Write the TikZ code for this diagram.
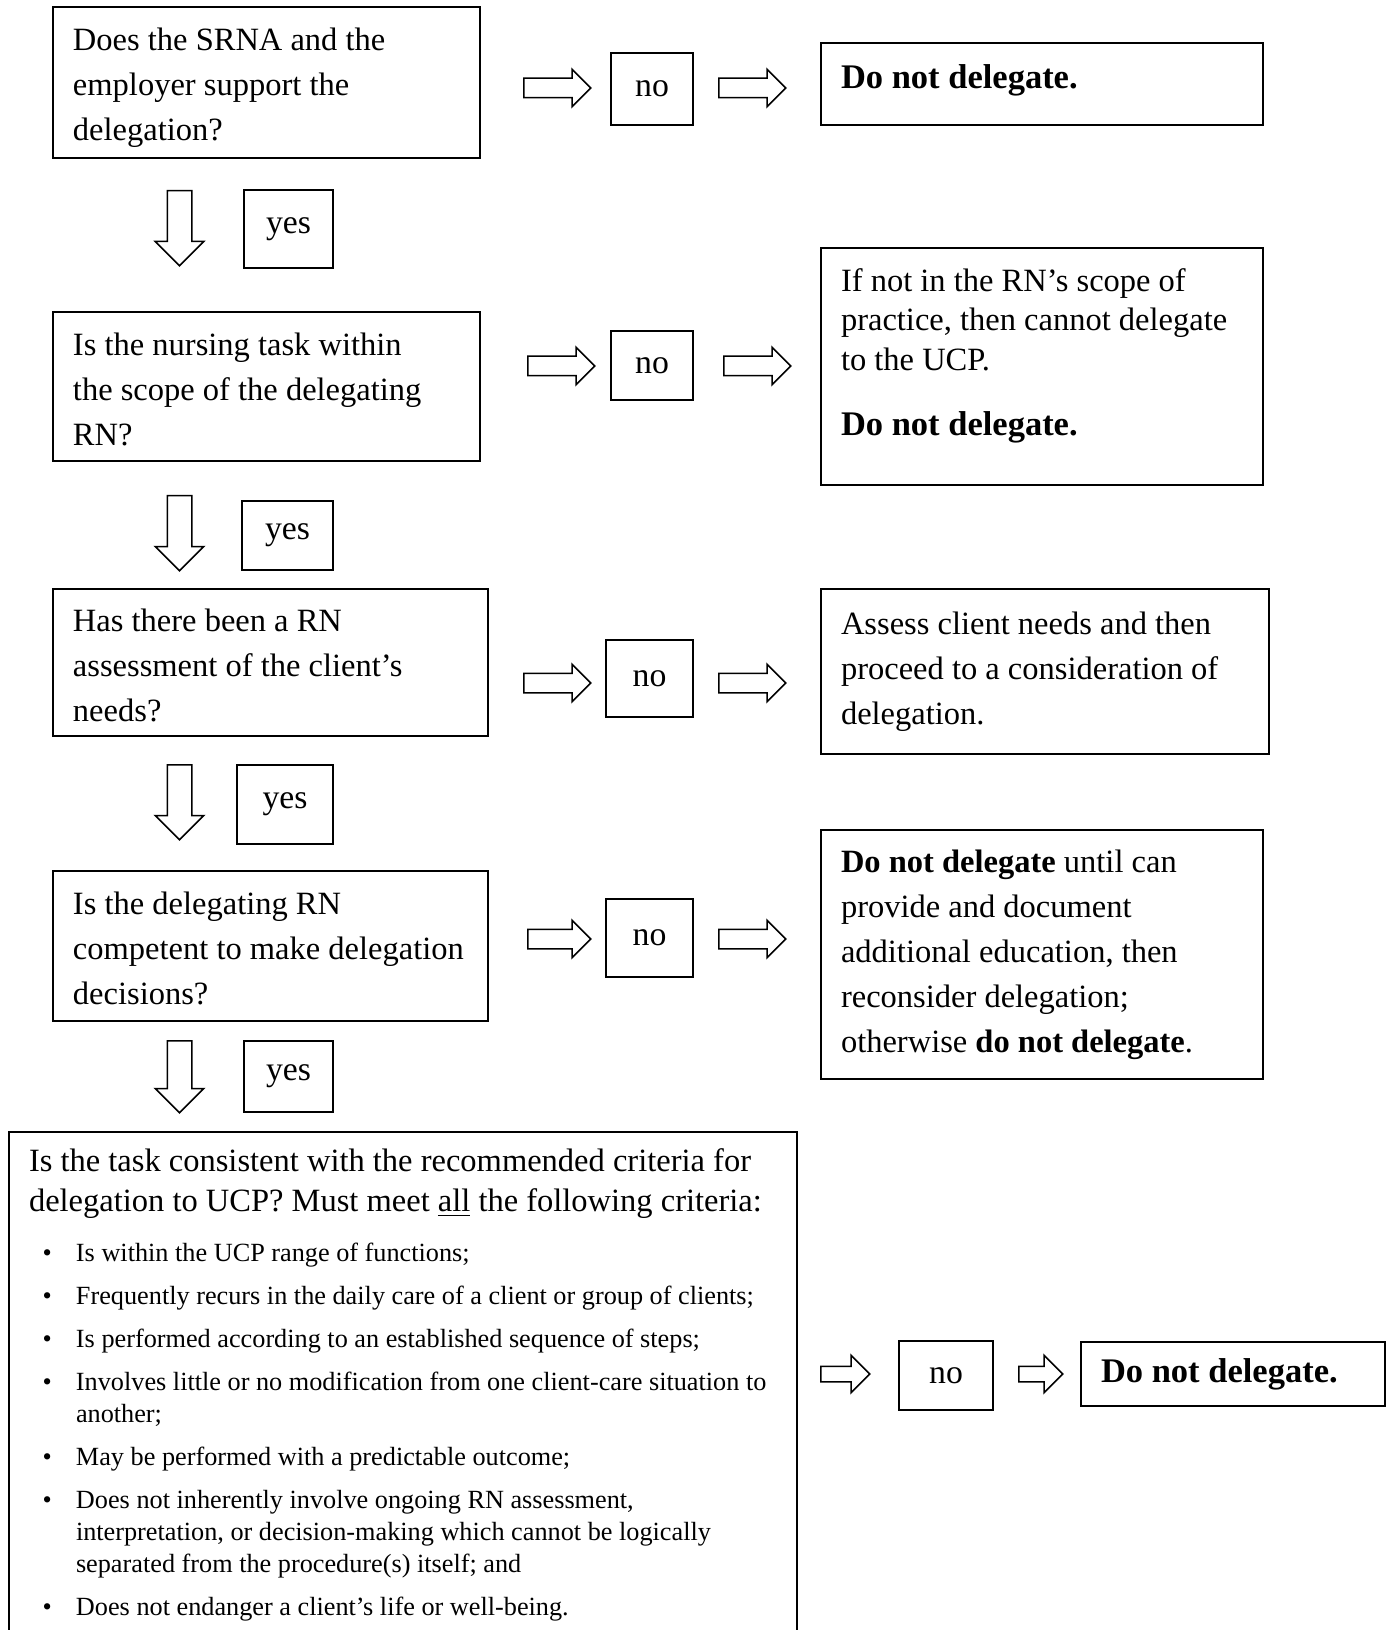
\documentclass[tikz,border=0pt]{standalone}
\usepackage{fontspec}
\setmainfont{Liberation Serif}
\usetikzlibrary{shapes.arrows}

% one bullet line of the criteria list
\newcommand\critem[1]{\par\hangindent=18.8pt\hangafter=1\noindent\hbox to 18.8pt{\hspace{5.4pt}\textbullet\hfil}#1}
% the bold stop line
\newcommand\stopline{\textbf{\fontsize{13.8}{16}\selectfont Do not delegate.}}

\begin{document}
\begin{tikzpicture}[x=0.4pt,y=-0.4pt]
    \tikzset{
    question/.style={
        draw,
        line width=0.8pt,
        text width=154.8pt,
        inner xsep=8pt,
        align=flush left,
        font=\fontsize{13}{18}\selectfont
    },
    result/.style={
        question,
        text width=160.8pt
    },
    answer/.style={
        draw,
        line width=0.8pt,
        inner sep=0pt,
        font=\fontsize{13.5}{15}\selectfont
    },
    rarr/.style={
        single arrow,
        draw,
        line width=0.6pt,
        anchor=tail,
        inner sep=3.6pt,
        single arrow head extend=3.6pt,
        single arrow head indent=0pt
    },
    darr/.style={
        rarr,
        shape border rotate=270,
        inner sep=4.6pt,
        single arrow head extend=4.8pt
    },
    criteria/.style={
        draw,
        line width=0.8pt,
        anchor=north west,
        text width=299.2pt,
        inner xsep=8pt,
        inner ysep=6.5pt,
        align=flush left
    }
}
    \useasboundingbox (0,0) rectangle (1392,1630);

    % questions down the left
    \node[question, minimum height=60.4pt] (SRNA) at (266.5,82.5) {\rule{0pt}{13.1pt}Does the SRNA and the\\ employer support the\\ delegation?};
    \node[question, minimum height=59.6pt] (Scope) at (266.5,386.5) {\rule{0pt}{11.3pt}Is the nursing task within\\ the scope of the delegating\\ RN?};
    \node[question, text width=158pt, minimum height=58.8pt] (Assess) at (270.5,662.5) {\rule{0pt}{11.6pt}Has there been a RN\\ assessment of the client's\\ needs?};
    \node[question, text width=158pt, minimum height=60pt] (Competent) at (270.5,946) {\rule{0pt}{11.3pt}Is the delegating RN\\ competent to make delegation\\ decisions?};

    % yes answers
    \node[answer, minimum width=35.6pt, minimum height=31.2pt] (Yes1) at (288.5,229) {yes};
    \node[answer, minimum width=36.4pt, minimum height=27.6pt] (Yes2) at (287.5,535.5) {yes};
    \node[answer, minimum width=38.4pt, minimum height=31.6pt] (Yes3) at (285,804.5) {yes};
    \node[answer, minimum width=35.6pt, minimum height=28.4pt] (Yes4) at (288.5,1076.5) {yes};

    \node[darr, minimum height=30pt] (Down1) at (179.5,190) {};
    \node[darr, minimum height=30pt] (Down2) at (179.5,495) {};
    \node[darr, minimum height=30pt] (Down3) at (179.5,764) {};
    \node[darr, minimum height=28.8pt] (Down4) at (179.5,1040) {};

    % no answers
    \node[answer, minimum width=32.8pt, minimum height=28.8pt] (No1) at (652,89) {no};
    \node[answer, minimum width=32.8pt, minimum height=27.6pt] (No2) at (652,365.5) {no};
    \node[answer, minimum width=34.8pt, minimum height=30.8pt] (No3) at (649.5,678.5) {no};
    \node[answer, minimum width=34.8pt, minimum height=31.2pt] (No4) at (649.5,938) {no};
    \node[answer, minimum width=37.6pt, minimum height=27.6pt] (No5) at (946,1375.5) {no};

    \node[rarr, minimum height=26.8pt] (ToNo1) at (523,88) {};
    \node[rarr, minimum height=26.8pt] (FromNo1) at (718,88) {};
    \node[rarr, minimum height=26.8pt] (ToNo2) at (527,366) {};
    \node[rarr, minimum height=26.8pt] (FromNo2) at (723,366) {};
    \node[rarr, minimum height=26.8pt] (ToNo3) at (523,683) {};
    \node[rarr, minimum height=26.8pt] (FromNo3) at (718,683) {};
    \node[rarr, minimum height=25.2pt] (ToNo4) at (527,939) {};
    \node[rarr, minimum height=26.8pt] (FromNo4) at (718,939) {};
    \node[rarr, minimum height=19.6pt, inner sep=2.8pt, single arrow head extend=4.4pt] (ToNo5) at (820,1374) {};
    \node[rarr, minimum height=17.6pt, inner sep=2.8pt, single arrow head extend=4.4pt] (FromNo5) at (1018,1374) {};

    % outcomes on the right
    \node[result, minimum height=32.8pt] (Stop1) at (1042,84) {\stopline\rule[-6pt]{0pt}{1pt}};
    \node[result, minimum height=94.8pt, font=\fontsize{13}{15.8}\selectfont] (Stop2) at (1042,366.5) {If not in the RN's scope of\\ practice, then cannot delegate\\ to the UCP.\\[10.4pt] \stopline\rule[-11.6pt]{0pt}{11.6pt}};
    \node[result, text width=163.2pt, minimum height=66pt] (Client) at (1045,671.5) {Assess client needs and then\\ proceed to a consideration of\\ delegation.};
    \node[result, minimum height=99.6pt] (Educate) at (1042,954.5) {\textbf{Do not delegate} until can\\ provide and document\\ additional education, then\\ reconsider delegation;\\ otherwise \textbf{do not delegate}.};
    \node[result, text width=105.6pt, minimum height=25.6pt] (Stop5) at (1233,1374) {\stopline};

    % criteria box, runs off the page
    \node[criteria] (Criteria) at (8,1131) {%
        {\fontsize{13}{16.2}\selectfont Is the task consistent with the recommended criteria for\\ delegation to UCP? Must meet \underline{all} the following criteria:\par}
        \vspace{2.6pt}
        {\fontsize{10.5}{12.9}\selectfont\setlength{\parskip}{4.3pt}%
        \critem{Is within the UCP range of functions;}
        \critem{Frequently recurs in the daily care of a client or group of clients;}
        \critem{Is performed according to an established sequence of steps;}
        \critem{Involves little or no modification from one client-care situation to\newline another;}
        \critem{May be performed with a predictable outcome;}
        \critem{Does not inherently involve ongoing RN assessment,\newline interpretation, or decision-making which cannot be logically\newline separated from the procedure(s) itself; and}
        \critem{Does not endanger a client's life or well-being.\rule[-14pt]{0pt}{1pt}}\par}%
    };
\end{tikzpicture}
\end{document}
